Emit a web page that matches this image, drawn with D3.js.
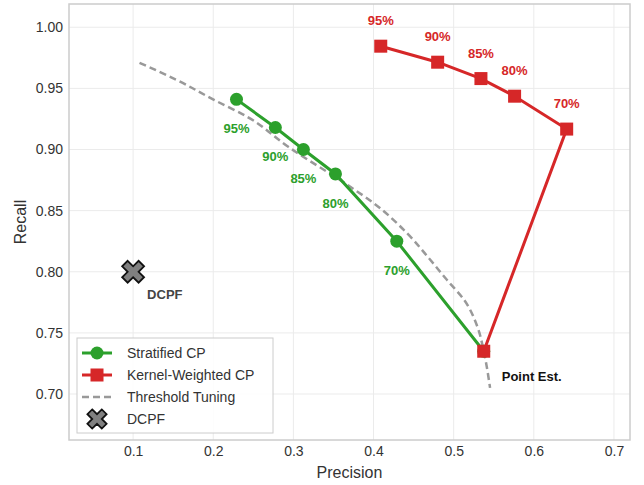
<!DOCTYPE html>
<html>
<head>
<meta charset="utf-8">
<script src="https://cdn.jsdelivr.net/npm/d3@7.9.0/dist/d3.min.js"></script>
<style>
  body { margin: 0; background: #fff; }
  svg { font-family: "Liberation Sans", Arial, sans-serif; }
</style>
</head>
<body>
<svg id="chart" width="644" height="485"></svg>
<script>
// data
const coverageLabels = ['95%', '90%', '85%', '80%', '70%'];
const stratPrecision = [0.229, 0.2775, 0.3125, 0.3525, 0.429];
const stratRecall = [0.941, 0.918, 0.900, 0.880, 0.825];
const kernelPrecision = [0.409, 0.480, 0.534, 0.576, 0.641];
const kernelRecall = [0.9845, 0.9714, 0.958, 0.9436, 0.9167];
const pointEst = { precision: 0.5375, recall: 0.735 };
const dcpf = { precision: 0.10, recall: 0.80 };
const tuningPrecision = [0.108, 0.155, 0.2015, 0.2425, 0.294, 0.371, 0.4004, 0.442, 0.471, 0.492, 0.513, 0.5296, 0.538, 0.5454];
const tuningRecall = [0.9709, 0.9567, 0.9404, 0.9267, 0.902, 0.8695, 0.856, 0.8314, 0.8096, 0.793, 0.777, 0.755, 0.7334, 0.705];
const xTicks = [0.1, 0.2, 0.3, 0.4, 0.5, 0.6, 0.7];
const yTicks = [0.70, 0.75, 0.80, 0.85, 0.90, 0.95, 1.00];

const green = '#2ca02c', red = '#d62728', gray = '#999999';

const svg = d3.select('#chart');
const plotL = 69, plotR = 630, plotT = 4, plotB = 440;

let x = d3.scaleLinear().domain([0.02, 0.72]).range([plotL, plotR]);
let y = d3.scaleLinear().domain([0.6624, 1.019]).range([plotB, plotT]);

// grid
let grid = svg.append('g');
xTicks.forEach(t => {
  grid.append('line').attr('x1', x(t)).attr('x2', x(t)).attr('y1', plotT).attr('y2', plotB)
    .attr('stroke', '#ebebeb').attr('stroke-width', 1);
});
yTicks.forEach(t => {
  grid.append('line').attr('x1', plotL).attr('x2', plotR).attr('y1', y(t)).attr('y2', y(t))
    .attr('stroke', '#ebebeb').attr('stroke-width', 1);
});

// axes (tick labels only, whitegrid style)
let xAxis = svg.append('g').attr('transform', `translate(0,${plotB})`)
  .call(d3.axisBottom(x).tickValues(xTicks).tickFormat(d3.format('.1f')).tickSize(0).tickPadding(6));
let yAxis = svg.append('g').attr('transform', `translate(${plotL},0)`)
  .call(d3.axisLeft(y).tickValues(yTicks).tickFormat(d3.format('.2f')).tickSize(0).tickPadding(6));
[xAxis, yAxis].forEach(a => {
  a.select('.domain').remove();
  a.selectAll('text').attr('font-size', 14).attr('fill', '#333')
    .attr('font-family', '"Liberation Sans", Arial, sans-serif');
});

// frame
svg.append('rect').attr('x', plotL).attr('y', plotT).attr('width', plotR - plotL).attr('height', plotB - plotT)
  .attr('fill', 'none').attr('stroke', '#cccccc').attr('stroke-width', 1.5);

// axis titles
svg.append('text').attr('x', (plotL + plotR) / 2).attr('y', 478).attr('text-anchor', 'middle')
  .attr('font-size', 16).attr('fill', '#333').text('Precision');
svg.append('text').attr('transform', `translate(26,${(plotT + plotB) / 2}) rotate(-90)`)
  .attr('text-anchor', 'middle').attr('font-size', 16).attr('fill', '#333').text('Recall');

let line = d3.line().x(d => x(d[0])).y(d => y(d[1]));

// threshold tuning curve
let tuning = tuningPrecision.map((p, i) => [p, tuningRecall[i]]);
svg.append('path').attr('d', line.curve(d3.curveMonotoneY)(tuning)).attr('fill', 'none')
  .attr('stroke', gray).attr('stroke-width', 2.5).attr('stroke-dasharray', '7,4');
line.curve(d3.curveLinear);

// stratified CP
let strat = stratPrecision.map((p, i) => [p, stratRecall[i]]);
strat.push([pointEst.precision, pointEst.recall]);
svg.append('path').attr('d', line(strat)).attr('fill', 'none')
  .attr('stroke', green).attr('stroke-width', 3);
svg.selectAll('.strat-pt').data(strat).join('circle').attr('class', 'strat-pt')
  .attr('cx', d => x(d[0])).attr('cy', d => y(d[1])).attr('r', 6.5).attr('fill', green);

// kernel-weighted CP
let kernel = kernelPrecision.map((p, i) => [p, kernelRecall[i]]);
kernel.push([pointEst.precision, pointEst.recall]);
svg.append('path').attr('d', line(kernel)).attr('fill', 'none')
  .attr('stroke', red).attr('stroke-width', 3);
svg.selectAll('.kern-pt').data(kernel).join('rect').attr('class', 'kern-pt')
  .attr('x', d => x(d[0]) - 6.5).attr('y', d => y(d[1]) - 6.5)
  .attr('width', 13).attr('height', 13).attr('fill', red);

// coverage labels
coverageLabels.forEach((lab, i) => {
  svg.append('text').attr('x', x(stratPrecision[i])).attr('y', y(stratRecall[i]) + 34)
    .attr('text-anchor', 'middle').attr('font-size', 13).attr('font-weight', 'bold')
    .attr('fill', green).text(lab);
  svg.append('text').attr('x', x(kernelPrecision[i])).attr('y', y(kernelRecall[i]) - 21)
    .attr('text-anchor', 'middle').attr('font-size', 13).attr('font-weight', 'bold')
    .attr('fill', red).text(lab);
});

// DCPF marker
const xMark = d3.symbol().type(d3.symbolCross);
svg.append('path').attr('d', xMark.size(300)())
  .attr('transform', `translate(${x(dcpf.precision)},${y(dcpf.recall)}) rotate(45)`)
  .attr('fill', '#808080').attr('stroke', '#111').attr('stroke-width', 1.8);
svg.append('text').attr('x', x(dcpf.precision) + 14).attr('y', y(dcpf.recall) + 27)
  .attr('font-size', 13).attr('font-weight', 'bold').attr('fill', '#444').text('DCPF');

svg.append('text').attr('x', x(pointEst.precision) + 18).attr('y', y(pointEst.recall) + 30)
  .attr('font-size', 13).attr('font-weight', 'bold').attr('fill', '#111').text('Point Est.');

// legend
let legend = svg.append('g').attr('transform', 'translate(77,338)');
legend.append('rect').attr('width', 196).attr('height', 95).attr('fill', 'rgba(255,255,255,0.85)')
  .attr('stroke', '#cccccc').attr('stroke-width', 1);
const legendItems = ['Stratified CP', 'Kernel-Weighted CP', 'Threshold Tuning', 'DCPF'];
legendItems.forEach((name, i) => {
  let ly = 15 + i * 22;
  let g = legend.append('g').attr('transform', `translate(0,${ly})`);
  if (i === 0) {
    g.append('line').attr('x1', 5).attr('x2', 35).attr('stroke', green).attr('stroke-width', 3);
    g.append('circle').attr('cx', 20).attr('r', 6.5).attr('fill', green);
  } else if (i === 1) {
    g.append('line').attr('x1', 5).attr('x2', 35).attr('stroke', red).attr('stroke-width', 3);
    g.append('rect').attr('x', 13.5).attr('y', -6.5).attr('width', 13).attr('height', 13).attr('fill', red);
  } else if (i === 2) {
    g.append('line').attr('x1', 5).attr('x2', 35).attr('stroke', gray).attr('stroke-width', 2.5)
      .attr('stroke-dasharray', '7,4');
  } else {
    g.append('path').attr('d', xMark.size(230)()).attr('transform', 'translate(20,0) rotate(45)')
      .attr('fill', '#808080').attr('stroke', '#111').attr('stroke-width', 1.8);
  }
  g.append('text').attr('x', 50).attr('y', 5).attr('font-size', 14).attr('fill', '#333').text(name);
});
</script>
</body>
</html>
